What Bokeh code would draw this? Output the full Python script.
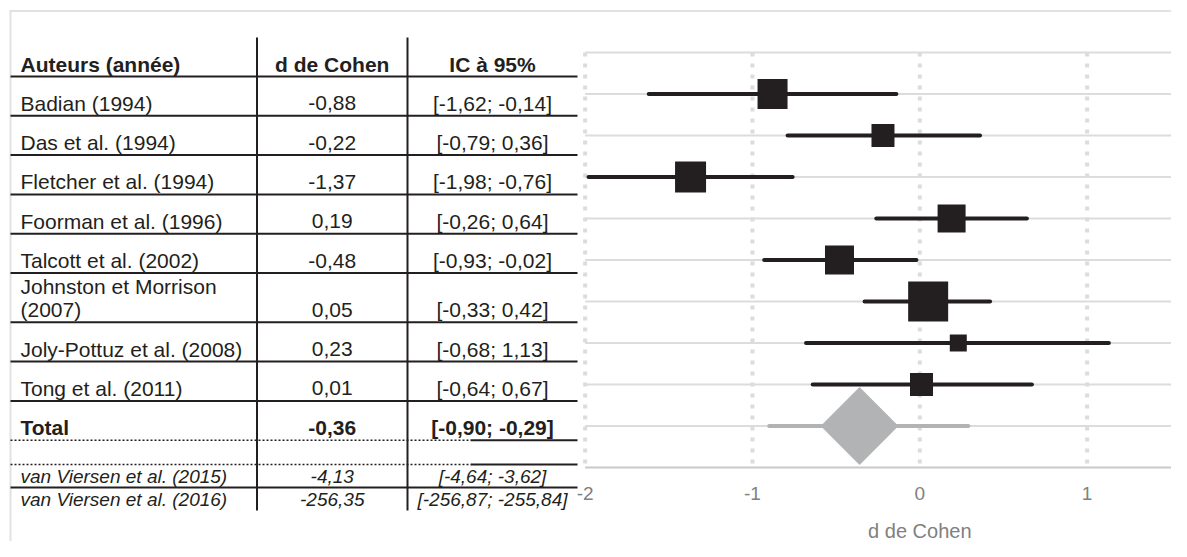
import math
from bokeh.plotting import figure
from bokeh.models import Range1d
from bokeh.core.properties import value
from bokeh.embed import file_html
from bokeh.resources import INLINE

# ---------------- data ----------------
headers = ["Auteurs (année)", "d de Cohen", "IC à 95%"]
authors = ["Badian (1994)", "Das et al. (1994)", "Fletcher et al. (1994)",
           "Foorman et al. (1996)", "Talcott et al. (2002)",
           "Johnston et Morrison\n(2007)", "Joly-Pottuz et al. (2008)",
           "Tong et al. (2011)"]
d_cohen = [-0.88, -0.22, -1.37, 0.19, -0.48, 0.05, 0.23, 0.01]
ci_low = [-1.62, -0.79, -1.98, -0.26, -0.93, -0.33, -0.68, -0.64]
ci_high = [-0.14, 0.36, -0.76, 0.64, -0.02, 0.42, 1.13, 0.67]
weight_box = [30, 23, 31, 28, 29, 40, 17, 23]   # square side (study weight)

total_label = "Total"
total_d = -0.36
total_ci_low = -0.90
total_ci_high = -0.29          # as printed in the table
total_ci_high_drawn = 0.29     # as drawn in the plot
total_diamond = 55             # diamond size

excluded = ["van Viersen et al. (2015)", "van Viersen et al. (2016)"]
excl_d = [-4.13, -256.35]
excl_low = [-4.64, -256.87]
excl_high = [-3.62, -255.84]

x_ticks = [-2, -1, 0, 1]
x_tick_labels = ["-2", "-1", "0", "1"]
x_label = "d de Cohen"

# ---------------- layout / style ----------------
ORIGIN = 0                          # image px of the canvas corner
W, H = 1171, 541
X0_PX, X_UNIT = 919.3, 167.33      # image px of d = 0, px per unit
Y0_PX, Y_UNIT = 467.0, 41.5        # image px of row 0, px per row
X_MIN, X_MAX = -2.0, 1.504
TEXT_DY = -7                        # baseline correction for text glyphs

FONT = value("Liberation Sans")
DARK = "#231f20"
MARK_GRAY = "#b2b3b5"
GRID = "#dcdcdc"
AXIS_GRAY = "#808080"

COL_X = [10, 256.5, 407, 577]
TXT_X0 = 20
COL2_C = (COL_X[1] + COL_X[2]) / 2
COL3_C = (COL_X[2] + COL_X[3]) / 2
VLINE_TOP, VLINE_BOT = 37, 510
HEADER_LINE = 76
ROW_H, LINE_EXTRA, LINE_GAP, BASE_OFF = 39.3, 10.0, 23.5, 5.5
GAP_ROW_H = 24.3
EXCL_ROW_H, EXCL_BASE_OFF = 23, 4
DOT_END = 470


def fmt(v):
    return f"{v:.2f}".replace(".", ",")


def fmt_ci(lo, hi):
    return f"[{fmt(lo)}; {fmt(hi)}]"


x_rng = Range1d((ORIGIN - X0_PX) / X_UNIT, (ORIGIN + W - X0_PX) / X_UNIT)
y_rng = Range1d((Y0_PX - (ORIGIN + H)) / Y_UNIT, (Y0_PX - ORIGIN) / Y_UNIT)

p = figure(width=W, height=H, x_range=x_rng, y_range=y_rng,
           x_axis_type=None, y_axis_type=None, output_backend="svg",
           toolbar_location=None, min_border=0, outline_line_color=None)
p.extra_x_ranges = {"px": Range1d(ORIGIN, ORIGIN + W)}
p.extra_y_ranges = {"py": Range1d(ORIGIN + H, ORIGIN)}
p.background_fill_color = "white"
p.border_fill_color = "white"

n = len(authors)
study_y = [n + 1 - i for i in range(n)]
total_y = 1
top_y = n + 2

# ---- outer border ----
p.segment(x0=[9, 10], y0=[10.5, 10], x1=[ORIGIN + W, 10], y1=[10.5, ORIGIN + H],
          x_range_name="px", y_range_name="py", line_color="#e2e2e2", line_width=2)

# ---- forest grid ----
hy = list(range(1, top_y + 1))
p.segment(x0=[X_MIN] * len(hy), y0=hy, x1=[X_MAX] * len(hy), y1=hy,
          line_color=GRID, line_width=2)
p.segment(x0=[X_MIN], y0=[0], x1=[X_MAX], y1=[0], line_color="#c9c9c9", line_width=2)
p.segment(x0=x_ticks, y0=[top_y] * len(x_ticks), x1=x_ticks, y1=[0] * len(x_ticks),
          line_color=GRID, line_width=4, line_dash="4 7")

# ---- studies ----
p.segment(x0=ci_low, y0=study_y, x1=ci_high, y1=study_y, line_color=DARK,
          line_width=4, line_cap="round")
p.scatter(x=d_cohen, y=study_y, size=weight_box, marker="square",
          fill_color=DARK, line_color=None)

# ---- total ----
p.segment(x0=[total_ci_low], y0=[total_y], x1=[total_ci_high_drawn], y1=[total_y],
          line_color=MARK_GRAY, line_width=4, line_cap="round")
p.scatter(x=[total_d], y=[total_y], size=total_diamond, marker="square",
          angle=math.pi / 4, fill_color=MARK_GRAY, line_color=None)

# ---- x axis labels ----
p.text(x=x_ticks, y=[500 + TEXT_DY] * len(x_ticks), text=x_tick_labels,
       y_range_name="py", text_font=FONT, text_font_size="19px",
       text_color=AXIS_GRAY, text_align="center", text_baseline="alphabetic")
p.text(x=[0], y=[537 + TEXT_DY], text=[x_label], y_range_name="py",
       text_font=FONT, text_font_size="20px", text_color=AXIS_GRAY,
       text_align="center", text_baseline="alphabetic")

# ---- table ----
styles = {}


def add(style, align, x, y, t):
    styles.setdefault((style, align), ([], [], []))
    s = styles[(style, align)]
    s[0].append(x); s[1].append(y + TEXT_DY); s[2].append(t)


solid = []   # (x0, y, x1)
dotted = []

base = HEADER_LINE - BASE_OFF
add("bold", "left", TXT_X0, base, headers[0])
add("bold", "center", COL2_C, base, headers[1])
add("bold", "center", COL3_C, base, headers[2])
solid.append((COL_X[0], HEADER_LINE, COL_X[3]))

yb = HEADER_LINE
for a, d, lo, hi in zip(authors, d_cohen, ci_low, ci_high):
    lines = a.split("\n")
    bottom = yb + ROW_H + LINE_EXTRA * (len(lines) - 1)
    base = bottom - BASE_OFF
    for k, ln in enumerate(lines):
        add("normal", "left", TXT_X0, base - LINE_GAP * (len(lines) - 1 - k), ln)
    add("normal", "center", COL2_C, base, fmt(d))
    add("normal", "center", COL3_C, base, fmt_ci(lo, hi))
    solid.append((COL_X[0], bottom, COL_X[3]))
    yb = bottom

bottom = yb + ROW_H
base = bottom - BASE_OFF
add("bold", "left", TXT_X0, base, total_label)
add("bold", "center", COL2_C, base, fmt(total_d))
add("bold", "center", COL3_C, base, fmt_ci(total_ci_low, total_ci_high))
for ly in (bottom, bottom + GAP_ROW_H):
    dotted.append((COL_X[0], ly, DOT_END))
    solid.append((DOT_END, ly, COL_X[3]))
yb = bottom + GAP_ROW_H

for i, (a, d, lo, hi) in enumerate(zip(excluded, excl_d, excl_low, excl_high)):
    bottom = yb + EXCL_ROW_H
    base = bottom - EXCL_BASE_OFF
    add("italic", "left", TXT_X0, base, a)
    add("italic", "center", COL2_C, base, fmt(d))
    add("italic", "center", COL3_C, base, fmt_ci(lo, hi))
    if i < len(excluded) - 1:
        solid.append((COL_X[0], bottom, COL_X[3]))
    yb = bottom

p.segment(x0=[s[0] for s in solid], y0=[s[1] for s in solid],
          x1=[s[2] for s in solid], y1=[s[1] for s in solid],
          x_range_name="px", y_range_name="py", line_color=DARK, line_width=2)
p.segment(x0=[s[0] for s in dotted], y0=[s[1] for s in dotted],
          x1=[s[2] for s in dotted], y1=[s[1] for s in dotted],
          x_range_name="px", y_range_name="py", line_color=DARK, line_width=1.5,
          line_dash="2 2")
p.segment(x0=[COL_X[1], COL_X[2]], y0=[VLINE_TOP] * 2, x1=[COL_X[1], COL_X[2]],
          y1=[VLINE_BOT] * 2, x_range_name="px", y_range_name="py",
          line_color=DARK, line_width=2)

for (style, align), (xs, ys, ts) in styles.items():
    size = "19px" if style == "italic" else "21px"
    p.text(x=xs, y=ys, text=ts, x_range_name="px", y_range_name="py",
           text_font=FONT, text_font_size=size, text_font_style=style,
           text_color=DARK, text_align=align, text_baseline="alphabetic")

open("out.html", "w", encoding="utf-8").write(file_html(p, INLINE))
